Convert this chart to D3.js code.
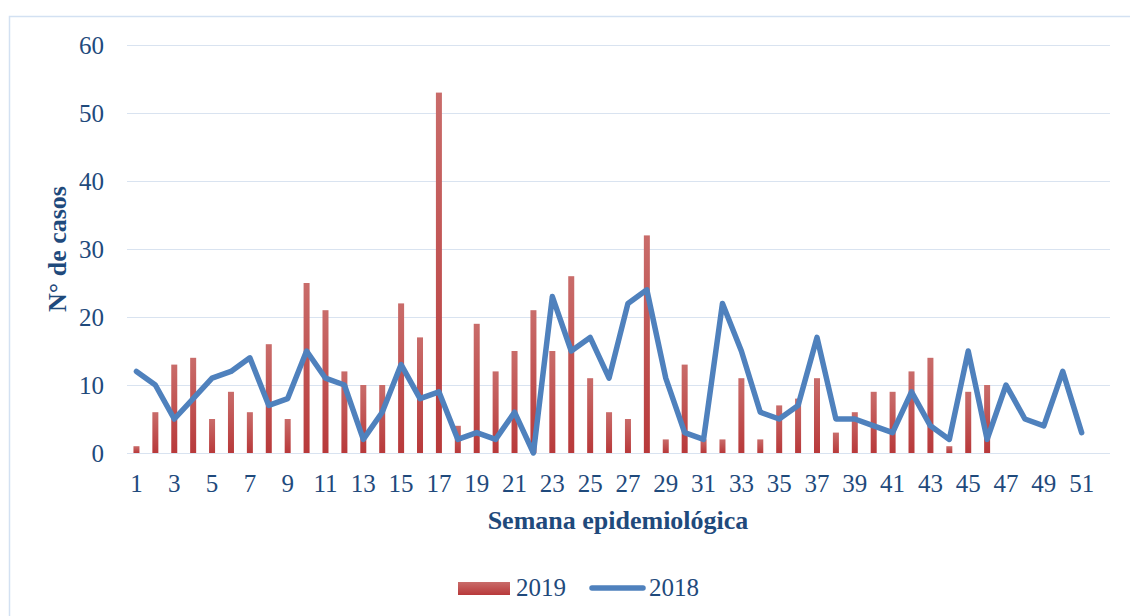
<!DOCTYPE html>
<html><head><meta charset="utf-8">
<script src="https://cdn.jsdelivr.net/npm/d3@7"></script>
<style>html,body{margin:0;padding:0;background:#fff;}svg{display:block;}</style>
</head><body>
<svg id="c" width="1130" height="616"></svg>
<script>
const weeks = d3.range(1, 53).map(String);
const xTickLabels = d3.range(1, 52, 2).map(String);
const yTicks = [0, 10, 20, 30, 40, 50, 60];
const cases2019 = [1,6,13,14,5,9,6,16,5,25,21,12,10,10,22,17,53,4,19,12,15,21,15,26,11,6,5,32,2,13,2,2,11,2,7,8,11,3,6,9,9,12,14,1,9,10,null,null,null,null,null,null];
const cases2018 = [12,10,5,8,11,12,14,7,8,15,11,10,2,6,13,8,9,2,3,2,6,0,23,15,17,11,22,24,11,3,2,22,15,6,5,7,17,5,5,4,3,9,4,2,15,2,10,5,4,12,3,null];
const seriesNames = ["2019", "2018"];

const svg = d3.select("#c");
const defs = svg.append("defs");
const g = defs.append("linearGradient").attr("id","barg").attr("x1",0).attr("y1",0).attr("x2",0).attr("y2",1);
g.append("stop").attr("offset","0%").attr("stop-color","#c96c6a");
g.append("stop").attr("offset","100%").attr("stop-color","#b8393a");

const textColor = "#1f4a7c";
const font = "'Liberation Serif', serif";

// frame
svg.append("path").attr("d","M9.5,616 L9.5,16.5 L1130,16.5").attr("fill","none").attr("stroke","#d3e1f2").attr("stroke-width",1.5);

const x = d3.scaleBand().domain(weeks).range([127, 1110]);
const y = d3.scaleLinear().domain([0, 60]).range([453, 45]);

// gridlines
svg.append("g").selectAll("line").data(yTicks).join("line")
  .attr("x1",127).attr("x2",1110)
  .attr("y1",d=>Math.round(y(d))+0.5).attr("y2",d=>Math.round(y(d))+0.5)
  .attr("stroke","#d9e3f0").attr("stroke-width",1.2);

// y axis labels
const yAxis = svg.append("g").attr("transform","translate(104,0)")
  .call(d3.axisLeft(y).tickValues(yTicks).tickSize(0).tickPadding(0));
yAxis.select(".domain").remove();
yAxis.selectAll("text").attr("fill",textColor).style("font-family",font).style("font-size","25px").attr("dy","0.33em");

// x axis labels
const xAxis = svg.append("g").attr("transform","translate(0,453)")
  .call(d3.axisBottom(x).tickValues(xTickLabels).tickSize(0).tickPadding(0));
xAxis.select(".domain").remove();
xAxis.selectAll("text").attr("fill",textColor).style("font-family",font).style("font-size","25px").attr("y",39).attr("dy",0);

// bars
const bw = 6;
svg.append("g").selectAll("rect").data(weeks.map((w,i)=>({w, v:cases2019[i]})).filter(d=>d.v!=null)).join("rect")
  .attr("x",d=>x(d.w)+x.bandwidth()/2-bw/2).attr("width",bw)
  .attr("y",d=>y(d.v)).attr("height",d=>y(0)-y(d.v))
  .attr("fill","url(#barg)");

// line
const line = d3.line().defined(d=>d.v!=null).x(d=>x(d.w)+x.bandwidth()/2).y(d=>y(d.v));
svg.append("path").datum(weeks.map((w,i)=>({w, v:cases2018[i]})))
  .attr("d",line).attr("fill","none").attr("stroke","#4f81bd").attr("stroke-width",5.5)
  .attr("stroke-linejoin","round").attr("stroke-linecap","round");

// axis titles
svg.append("text").attr("x",618).attr("y",529).attr("text-anchor","middle")
  .attr("fill",textColor).style("font-family",font).style("font-weight","bold").style("font-size","26px")
  .text("Semana epidemiológica");
svg.append("text").attr("transform","translate(66,249) rotate(-90)").attr("text-anchor","middle")
  .attr("fill",textColor).style("font-family",font).style("font-weight","bold").style("font-size","26px")
  .text("N° de casos");

// legend
const lg = svg.append("g");
lg.append("rect").attr("x",458).attr("y",582).attr("width",52).attr("height",13).attr("fill","url(#barg)");
lg.append("text").attr("x",516).attr("y",596).attr("fill",textColor).style("font-family",font).style("font-size","25px").text(seriesNames[0]);
lg.append("line").attr("x1",592).attr("x2",643).attr("y1",588).attr("y2",588).attr("stroke","#4f81bd").attr("stroke-width",5.5).attr("stroke-linecap","round");
lg.append("text").attr("x",649).attr("y",596).attr("fill",textColor).style("font-family",font).style("font-size","25px").text(seriesNames[1]);
</script>
</body></html>
